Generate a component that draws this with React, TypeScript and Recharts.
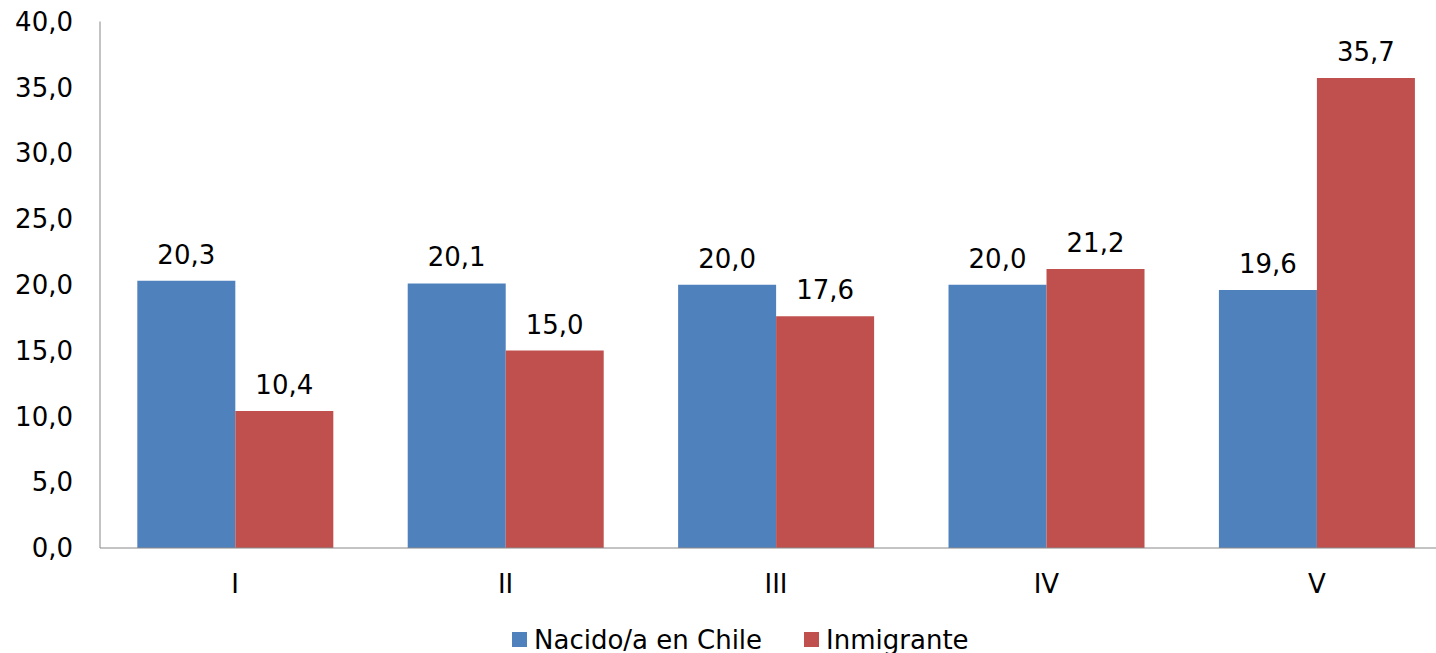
import React from 'react';
import { BarChart, Bar, XAxis, YAxis, Legend, LabelList } from 'recharts';

const categories = ['I', 'II', 'III', 'IV', 'V'];
const nacidoValues = [20.3, 20.1, 20.0, 20.0, 19.6];
const inmigranteValues = [10.4, 15.0, 17.6, 21.2, 35.7];
const yTicks = [0, 5, 10, 15, 20, 25, 30, 35, 40];
const seriesNames = ['Nacido/a en Chile', 'Inmigrante'];
const seriesColors = ['#4F81BD', '#C0504D'];

const data = categories.map((c, i) => ({
  cat: c,
  nacido: nacidoValues[i],
  inmigrante: inmigranteValues[i],
}));

const fmt = (v: number) => Number(v).toFixed(1).replace('.', ',');
const FONT = '"DejaVu Sans", Verdana, sans-serif';

const LegendContent = () => (
  <div style={{ display: 'flex', alignItems: 'center', fontFamily: FONT, fontSize: 26, color: '#000', height: 33 }}>
    {seriesNames.map((n, i) => (
      <div key={n} style={{ display: 'flex', alignItems: 'center', marginRight: i === 0 ? 42 : 0 }}>
        <div style={{ width: 15, height: 15, background: seriesColors[i], marginRight: 7 }} />
        <span style={{ whiteSpace: 'nowrap' }}>{n}</span>
      </div>
    ))}
  </div>
);

export default function App() {
  return (
    <div style={{ position: 'fixed', top: 0, left: 0, width: 1436, height: 653, overflow: 'hidden', background: '#fff' }}>
      <BarChart
        width={1460}
        height={653}
        data={data}
        margin={{ top: 21.5, right: 8, left: 0, bottom: 22 }}
        barCategoryGap="13.8%"
        barGap={0}
      >
        <XAxis
          dataKey="cat"
          tickLine={false}
          tickSize={0}
          tickMargin={27}
          height={50}
          stroke="#888888"
          tick={{ fill: '#000', fontSize: 26, fontFamily: FONT }}
        />
        <YAxis
          domain={[0, 40]}
          ticks={yTicks}
          tickFormatter={fmt}
          tickLine={false}
          tickSize={0}
          tickMargin={27}
          width={100}
          stroke="#888888"
          tick={{ fill: '#000', fontSize: 26, fontFamily: FONT }}
        />
        <Legend
          content={<LegendContent />}
          wrapperStyle={{ top: 623, left: 512, width: 600, height: 33, bottom: 'auto' }}
        />
        <Bar dataKey="nacido" name={seriesNames[0]} fill={seriesColors[0]} isAnimationActive={false}>
          <LabelList dataKey="nacido" position="top" offset={17} formatter={fmt} style={{ fill: '#000', fontSize: 26, fontFamily: FONT }} />
        </Bar>
        <Bar dataKey="inmigrante" name={seriesNames[1]} fill={seriesColors[1]} isAnimationActive={false}>
          <LabelList dataKey="inmigrante" position="top" offset={17} formatter={fmt} style={{ fill: '#000', fontSize: 26, fontFamily: FONT }} />
        </Bar>
      </BarChart>
    </div>
  );
}
